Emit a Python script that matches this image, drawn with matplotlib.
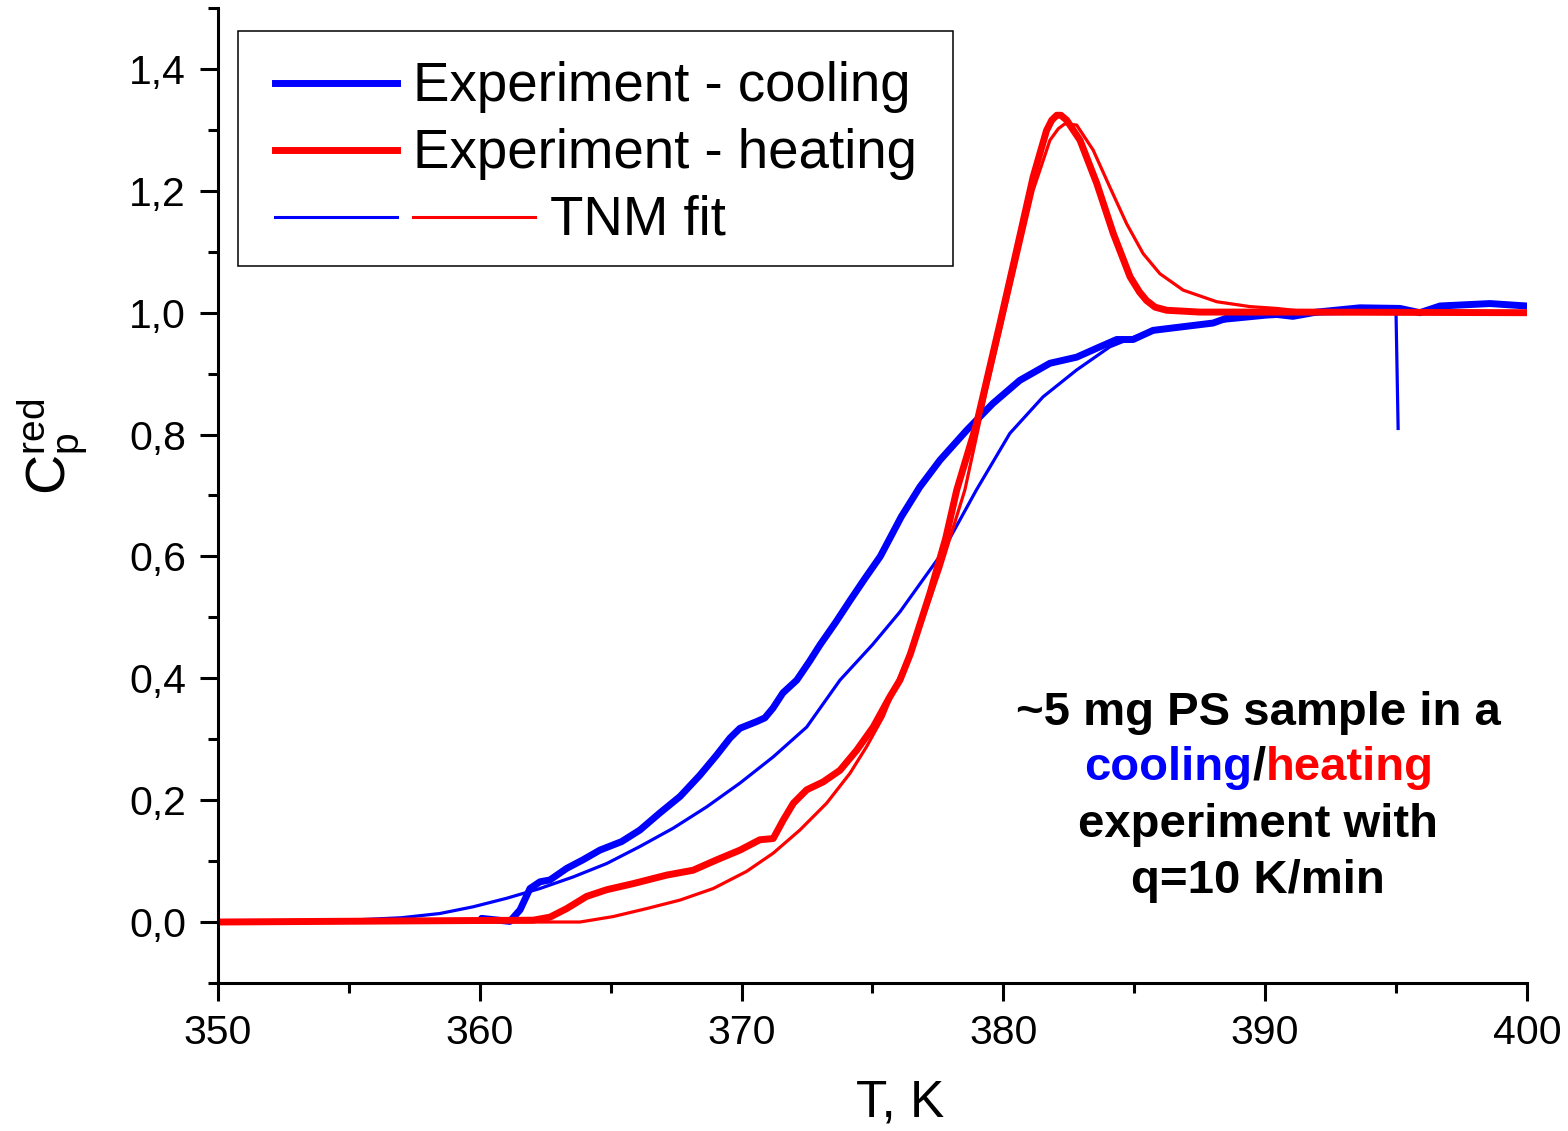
import numpy as np
import matplotlib
matplotlib.use("Agg")
import matplotlib.pyplot as plt
from matplotlib.ticker import MultipleLocator, FuncFormatter

plt.rcParams['font.family'] = ['Liberation Sans', 'DejaVu Sans']
plt.rcParams['mathtext.fontset'] = 'custom'
plt.rcParams['mathtext.rm'] = 'Liberation Sans'
plt.rcParams['mathtext.it'] = 'Liberation Sans'

# experiment - cooling (thick blue)
cool_T = [360.07, 361.15, 361.54, 361.92, 362.30, 362.68, 363.32, 363.94, 364.59, 365.42,
          366.12, 366.88, 367.65, 368.41, 369.05, 369.56, 369.94, 370.58, 370.89, 371.20,
          371.58, 372.11, 372.6, 373.0, 373.6, 374.15, 374.7, 375.3, 376.1, 376.81, 377.58,
          378.60, 379.60, 380.63, 381.78, 382.80, 383.69, 384.33, 384.96, 385.72, 386.86,
          388.01, 388.66, 390.06, 391.06, 391.97, 393.62, 395.15, 395.91, 396.68, 398.59, 399.99]
cool_C = [0.006, 0.001, 0.020, 0.055, 0.066, 0.069, 0.088, 0.102, 0.118, 0.132,
          0.151, 0.179, 0.206, 0.241, 0.274, 0.302, 0.318, 0.329, 0.335, 0.351,
          0.376, 0.397, 0.428, 0.455, 0.492, 0.528, 0.563, 0.600, 0.665, 0.714, 0.758,
          0.807, 0.851, 0.889, 0.917, 0.927, 0.944, 0.956, 0.956, 0.971, 0.977,
          0.983, 0.993, 0.999, 0.994, 1.001, 1.008, 1.007, 1.000, 1.011, 1.015, 1.011]

# experiment - heating (thick red)
heat_T = [350.0, 362.04, 362.68, 363.32, 364.08, 364.85, 365.86, 367.14, 368.15, 369.05,
          369.94, 370.70, 371.21, 371.59, 371.98, 372.49, 373.12, 373.76, 374.40, 375.03,
          375.67, 376.05, 376.45, 377.2, 377.8, 378.22, 378.98, 379.87, 380.51, 381.14,
          381.65, 381.85, 382.04, 382.2, 382.42, 382.93, 383.57, 384.20, 384.84, 385.2,
          385.47, 385.8, 386.24, 387.51, 391.33, 400.0]
heat_C = [0.0, 0.003, 0.008, 0.022, 0.042, 0.053, 0.063, 0.077, 0.085, 0.102,
          0.118, 0.135, 0.137, 0.167, 0.195, 0.217, 0.230, 0.249, 0.282, 0.320,
          0.370, 0.397, 0.440, 0.540, 0.630, 0.709, 0.818, 0.982, 1.103, 1.223,
          1.299, 1.316, 1.324, 1.324, 1.316, 1.283, 1.212, 1.130, 1.059, 1.034,
          1.020, 1.009, 1.004, 1.001, 1.001, 1.000]

# TNM fit - cooling (thin blue)
fitc_T = [350.0, 353.0, 355.0, 357.0, 358.48, 359.75, 361.03, 362.30, 363.57, 364.85,
          366.12, 367.39, 368.67, 369.94, 371.21, 372.49, 373.76, 375.0, 376.05, 377.6,
          378.97, 380.25, 381.52, 382.80, 384.07, 385.34, 386.87, 388.15, 390.06, 392.0,
          395.0, 395.08]
fitc_C = [0.0, 0.001, 0.003, 0.007, 0.014, 0.025, 0.039, 0.055, 0.074, 0.096,
          0.124, 0.154, 0.189, 0.228, 0.271, 0.320, 0.397, 0.455, 0.509, 0.602,
          0.709, 0.802, 0.862, 0.906, 0.944, 0.966, 0.977, 0.985, 0.993, 0.998,
          1.000, 0.810]

# TNM fit - heating (thin red)
fith_T = [350.0, 363.83, 365.10, 366.37, 367.65, 368.92, 370.19, 371.21, 372.23, 373.25,
          374.14, 374.78, 375.41, 375.98, 376.8, 377.6, 378.53, 379.36, 380.25, 381.14,
          381.78, 382.1, 382.35, 382.80, 383.43, 384.07, 384.71, 385.34, 385.98, 386.87,
          388.15, 389.42, 390.44, 391.3]
fith_C = [0.0, 0.0, 0.009, 0.022, 0.036, 0.055, 0.083, 0.113, 0.151, 0.195,
          0.244, 0.288, 0.337, 0.397, 0.480, 0.580, 0.709, 0.873, 1.037, 1.201,
          1.283, 1.302, 1.310, 1.308, 1.267, 1.206, 1.146, 1.097, 1.064, 1.037,
          1.018, 1.010, 1.007, 1.003]

fig = plt.figure(figsize=(15.68, 11.31), dpi=100)
ax = fig.add_axes([0.139, 0.1309, 0.8348, 0.862])

ax.plot(fitc_T, fitc_C, color='#0000FF', lw=2.3)
ax.plot(fith_T, fith_C, color='#FF0000', lw=2.3)
ax.plot(cool_T, cool_C, color='#0000FF', lw=5, solid_capstyle='round', solid_joinstyle='round')
ax.plot(heat_T, heat_C, color='#FF0000', lw=5, solid_capstyle='round', solid_joinstyle='round')

ax.set_xlim(350, 400)
ax.set_ylim(-0.1, 1.5)
for s in ['top', 'right']:
    ax.spines[s].set_visible(False)
for s in ['left', 'bottom']:
    ax.spines[s].set_linewidth(2.2)

ax.xaxis.set_major_locator(MultipleLocator(10))
ax.xaxis.set_minor_locator(MultipleLocator(5))
ax.yaxis.set_major_locator(MultipleLocator(0.2))
ax.yaxis.set_minor_locator(MultipleLocator(0.1))
ax.yaxis.set_major_formatter(FuncFormatter(lambda v, p: f"{v:.1f}".replace('.', ',').replace('-0,0', '0,0')))
ax.tick_params(which='major', direction='out', length=13, width=2.2, labelsize=29.5)
ax.tick_params(which='minor', direction='out', length=7, width=2.2)
ax.tick_params(axis='y', which='major', pad=10)
ax.tick_params(axis='x', which='major', pad=9)

ax.set_xlabel("T, K", fontsize=37)
ax.xaxis.set_label_coords(0.521, -0.098)
ax.set_ylabel(r"$\mathrm{C}_{\mathrm{p}}^{\mathrm{red}}$", fontsize=40)
ax.yaxis.set_label_coords(-0.098, 0.55)

# legend drawn by hand (third row holds two samples)
tr = ax.transAxes
ax.add_patch(plt.Rectangle((0.0153, 0.7354), 0.5462, 0.2410, transform=tr,
                           fill=False, lw=1.1, ec='black', clip_on=False))
ax.plot([0.0435, 0.1367], [0.9228, 0.9228], transform=tr, color='#0000FF', lw=5)
ax.plot([0.0435, 0.1367], [0.8547, 0.8547], transform=tr, color='#FF0000', lw=5)
ax.plot([0.0435, 0.1367], [0.7859, 0.7859], transform=tr, color='#0000FF', lw=2.2)
ax.plot([0.1490, 0.2422], [0.7859, 0.7859], transform=tr, color='#FF0000', lw=2.2)
ax.text(0.1490, 0.9046, "Experiment - cooling", transform=tr, fontsize=39.3, va='baseline')
ax.text(0.1490, 0.8364, "Experiment - heating", transform=tr, fontsize=39.3, va='baseline')
ax.text(0.2536, 0.7677, "TNM fit", transform=tr, fontsize=39.3, va='baseline')

# annotation
fs = 34
ann = dict(transform=tr, fontsize=fs, fontweight='bold', ha='center', va='baseline')
ax.text(0.7945, 0.2646, "~5 mg PS sample in a", **ann)
ax.text(0.7900, 0.2082, "cooling", transform=tr, fontsize=fs, fontweight='bold',
        ha='right', va='baseline', color='#0000FF')
ax.text(0.7953, 0.2082, "/", **ann)
ax.text(0.8006, 0.2082, "heating", transform=tr, fontsize=fs, fontweight='bold',
        ha='left', va='baseline', color='#FF0000')
ax.text(0.7945, 0.1497, "experiment with", **ann)
ax.text(0.7945, 0.0923, "q=10 K/min", **ann)

fig.savefig("out.png", dpi=100)
